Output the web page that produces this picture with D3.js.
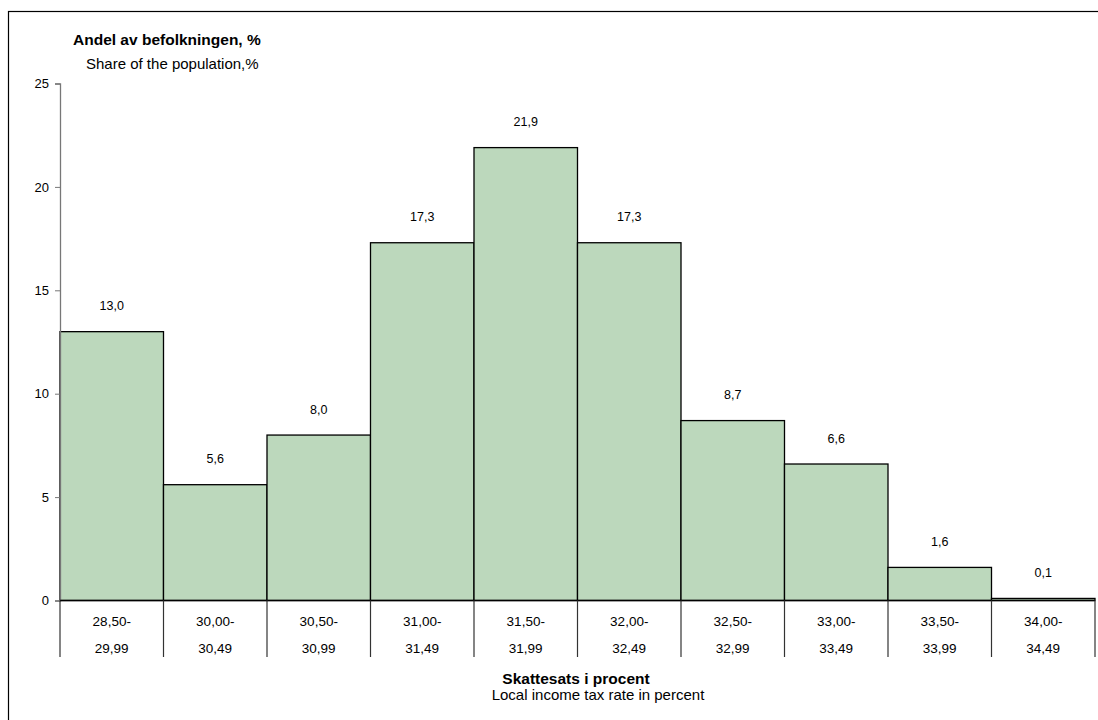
<!DOCTYPE html>
<html><head><meta charset="utf-8">
<script src="https://cdn.jsdelivr.net/npm/d3@7"></script>
<style>body{margin:0;background:#fff;} svg{display:block;font-family:"Liberation Sans",Arial,sans-serif;}</style>
</head><body>
<svg id="c" width="1098" height="720"></svg>
<script>
const catLine1 = ["28,50-","30,00-","30,50-","31,00-","31,50-","32,00-","32,50-","33,00-","33,50-","34,00-"];
const catLine2 = ["29,99","30,49","30,99","31,49","31,99","32,49","32,99","33,49","33,99","34,49"];
const values = [13.0,5.6,8.0,17.3,21.9,17.3,8.7,6.6,1.6,0.1];
const yTicks = [0,5,10,15,20,25];

(function(){
const svg = d3.select("#c");
svg.append("rect").attr("x",8.5).attr("y",11.5).attr("width",1200).attr("height",800)
  .attr("fill","none").attr("stroke","#000").attr("stroke-width",1.2);

const pL=60,pR=1095,pT=83.5,pB=600.5;
const x = d3.scaleBand().domain(d3.range(values.length)).range([pL,pR]).padding(0);
const y = d3.scaleLinear().domain([0,25]).range([pB,pT]);

svg.selectAll("rect.bar").data(values).join("rect").attr("class","bar")
  .attr("x",(d,i)=>x(i)).attr("width",x.bandwidth())
  .attr("y",d=>y(d)).attr("height",d=>y(0)-y(d))
  .attr("fill","#bcd8bc").attr("stroke","#000").attr("stroke-width",1.3);

svg.selectAll("text.val").data(values).join("text").attr("class","val")
  .attr("x",(d,i)=>x(i)+x.bandwidth()/2).attr("y",d=>y(d)-21.5)
  .attr("text-anchor","middle").attr("font-size",12.5).attr("fill","#000")
  .text(d=>d.toFixed(1).replace(".",","));

const ya = svg.append("g").attr("transform",`translate(${pL},0)`)
  .call(d3.axisLeft(y).tickValues(yTicks).tickSize(5).tickPadding(6).tickFormat(d=>d));
ya.select(".domain").attr("stroke","#777").attr("stroke-width",1.3);
ya.selectAll(".tick line").attr("stroke","#777");
ya.selectAll("text").attr("font-size",13).attr("font-family","Liberation Sans, Arial, sans-serif").attr("fill","#000");

svg.append("line").attr("x1",pL).attr("x2",pR).attr("y1",y(0)).attr("y2",y(0))
  .attr("stroke","#000").attr("stroke-width",1.3);

const seps = d3.range(values.length+1).map(i=> i<values.length ? x(i) : pR);
svg.selectAll("line.sep").data(seps).join("line").attr("class","sep")
  .attr("x1",d=>d).attr("x2",d=>d).attr("y1",y(0)).attr("y2",657)
  .attr("stroke","#333").attr("stroke-width",1.2);

svg.selectAll("text.c1").data(catLine1).join("text").attr("class","c1")
  .attr("x",(d,i)=>x(i)+x.bandwidth()/2).attr("y",626).attr("text-anchor","middle")
  .attr("font-size",13.5).text(d=>d);
svg.selectAll("text.c2").data(catLine2).join("text").attr("class","c2")
  .attr("x",(d,i)=>x(i)+x.bandwidth()/2).attr("y",652.5).attr("text-anchor","middle")
  .attr("font-size",13.5).text(d=>d);

svg.append("text").attr("x",73).attr("y",44.5).attr("font-size",15.5).attr("font-weight","bold").text("Andel av befolkningen, %");
svg.append("text").attr("x",86).attr("y",69).attr("font-size",15).text("Share of the population,%");
svg.append("text").attr("x",576).attr("y",683.5).attr("text-anchor","middle").attr("font-size",15.5).attr("font-weight","bold").text("Skattesats i procent");
svg.append("text").attr("x",598).attr("y",699.5).attr("text-anchor","middle").attr("font-size",15).text("Local income tax rate in percent");
})();
</script>
</body></html>
